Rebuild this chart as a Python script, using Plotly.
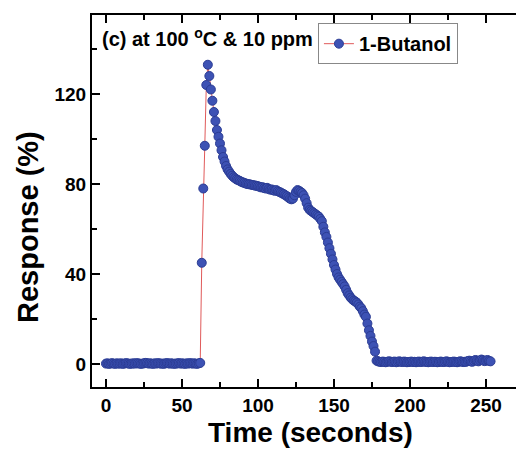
import plotly.graph_objects as go

# ---- data ----
time_s = list(range(0, 254))  # 1 s sampling grid

baseline_before = [0.2, 0.3, 0.1, 0.2, 0.4, 0.2, 0.1, 0.3, 0.2, 0.2,
                   0.3, 0.1, 0.2, 0.4, 0.3, 0.2, 0.1, 0.2, 0.3, 0.2,
                   0.4, 0.3, 0.2, 0.1, 0.2, 0.3, 0.5, 0.4, 0.2, 0.3,
                   0.2, 0.1, 0.3, 0.2, 0.4, 0.3, 0.2, 0.2, 0.1, 0.3,
                   0.4, 0.3, 0.2, 0.3, 0.2, 0.1, 0.2, 0.3, 0.4, 0.2,
                   0.3, 0.2, 0.1, 0.3, 0.2, 0.4, 0.3, 0.2, 0.3, 0.2,
                   0.1, 0.3, 0.5]

response_part = [45, 78, 97, 124, 133, 128, 122, 117, 112, 108,
                 104, 101, 98, 95, 92, 90, 88, 86.5, 85.5, 84.5,
                 83.7, 83, 82.5, 82, 81.7, 81.4, 81, 80.7, 80.5, 80.2,
                 80, 79.9, 79.8, 79.6, 79.5, 79.3, 79.2, 79, 78.8, 78.5,
                 78.6, 78.2, 78, 78.3, 77.8, 77.5, 77.6, 77.2, 77, 77.3,
                 76.8, 76.5, 76.2, 75.8, 75.5, 75, 74.6, 74, 73.5, 73.2,
                 73.5, 75, 76.5, 77.3, 77, 76.5, 76, 75, 73.5, 71.5,
                 69.5, 68.5, 68, 67.5, 67, 66.5, 66, 65.5, 64.5, 63.5,
                 61, 58.5, 56.5, 54, 51.5, 49, 46.5, 44, 42, 40,
                 38.5, 37.5, 36.5, 35.5, 34.5, 33, 31.5, 30.5, 29.5, 28.8,
                 28.2, 27.8, 27.3, 26.5, 25.5, 24.8, 23.5, 22, 21, 18,
                 15, 12.5, 10, 8, 5.5]

baseline_after = [1.5, 1.2, 1.0, 0.9, 1.1, 1.0, 0.8, 1.0, 1.2, 1.1,
                  0.9, 1.0, 1.1, 0.8, 1.0, 1.2, 1.0, 0.9, 1.1, 1.0,
                  0.8, 0.9, 1.0, 1.1, 0.9, 1.0, 0.8, 1.0, 1.1, 0.9,
                  1.0, 1.2, 1.0, 0.9, 0.8, 1.0, 1.1, 0.9, 1.0, 1.0,
                  0.8, 0.9, 1.1, 1.0, 0.9, 1.0, 1.2, 1.0, 0.8, 0.9,
                  1.0, 1.1, 0.9, 0.8, 1.0, 1.2, 1.1, 0.9, 1.0, 1.0,
                  1.3, 1.5, 1.2, 1.0, 1.4, 1.8, 1.5, 1.2, 1.6, 2.0,
                  1.7, 1.3, 1.5, 1.8, 1.4, 1.2]

response = baseline_before + response_part + baseline_after

x_ticks = [0, 50, 100, 150, 200, 250]
y_ticks = [0, 40, 80, 120]

FONT = "Liberation Sans, Arial, sans-serif"

fig = go.Figure()
fig.add_trace(go.Scatter(
    x=time_s, y=response, mode="lines+markers", name="1-Butanol",
    line=dict(color="#e05a5a", width=1),
    marker=dict(size=9, color="#3d52b4", line=dict(color="#2b3c94", width=1)),
))

axis_common = dict(
    showline=True, linecolor="black", linewidth=2,
    ticks="inside", ticklen=8, tickwidth=2, tickcolor="black",
    showgrid=False, zeroline=False,
    tickfont=dict(family=FONT, size=19, color="black", weight="bold"),
)

fig.update_xaxes(**axis_common, range=[-9.2, 275], tickvals=x_ticks,
                 mirror="ticks",
                 minor=dict(ticks="inside", ticklen=5, tickwidth=2,
                            tickcolor="black", dtick=25, tick0=0))
fig.update_yaxes(**axis_common, range=[-10.2, 155.1], tickvals=y_ticks,
                 minor=dict(ticks="inside", ticklen=5, tickwidth=2,
                            tickcolor="black", dtick=20, tick0=0))

# page body has an 8px margin, so the figure is shifted 8px right/down
fig.update_layout(
    width=516, height=441,
    margin=dict(l=84, r=0, t=7, b=62),
    paper_bgcolor="white", plot_bgcolor="white",
    showlegend=True,
    legend=dict(x=0.523, y=0.978, xanchor="left", yanchor="top",
                bgcolor="white", bordercolor="#888888", borderwidth=1,
                font=dict(family=FONT, size=20, color="black", weight="bold"),
                itemwidth=30, tracegroupgap=0),
    annotations=[
        dict(text="(c) at 100 <sup>o</sup>C & 10 ppm", xref="paper", yref="paper",
             x=(100 - 92) / 432, y=(387 - 38) / 372, xanchor="left", yanchor="middle",
             showarrow=False,
             font=dict(family=FONT, size=20, color="black", weight="bold")),
        dict(text="Response (%)", xref="paper", yref="paper",
             x=-(92 - 28) / 432, y=(387 - 227) / 372, xanchor="center", yanchor="middle",
             textangle=-90, showarrow=False,
             font=dict(family=FONT, size=29, color="black", weight="bold")),
        dict(text="Time (seconds)", xref="paper", yref="paper",
             x=(310 - 92) / 432, y=-(432 - 387) / 372, xanchor="center", yanchor="middle",
             showarrow=False,
             font=dict(family=FONT, size=28, color="black", weight="bold")),
    ],
)

fig.write_html("out.html")
